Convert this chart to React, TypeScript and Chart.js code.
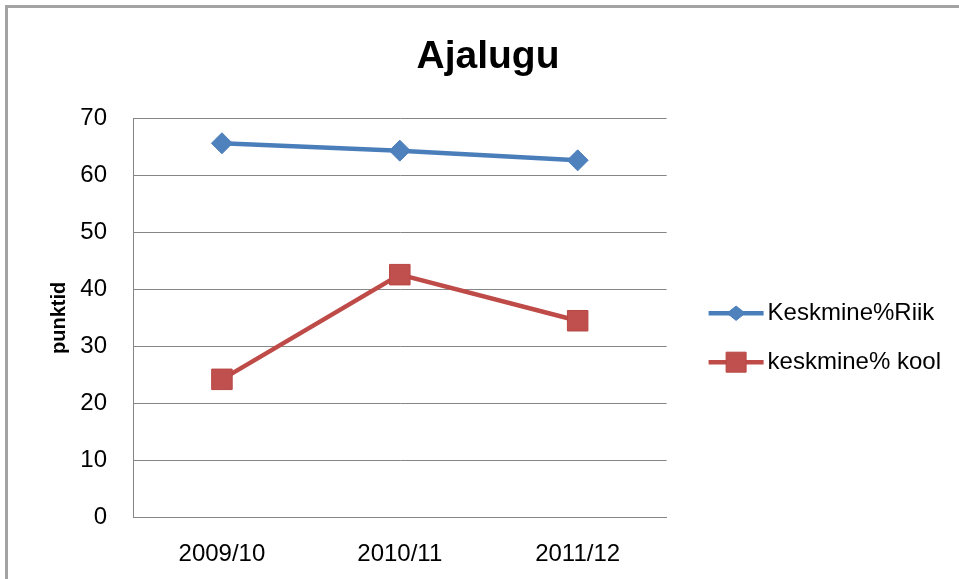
import React, { useEffect, useRef } from "react";
import { Chart, registerables } from "chart.js";

Chart.register(...registerables);

const TITLE = "Ajalugu";
const Y_TITLE = "punktid";
const CATEGORIES = ["2009/10", "2010/11", "2011/12"];
const SERIES_NAMES = ["Keskmine%Riik", "keskmine% kool"];
const RIIK_VALUES = [65.7, 64.4, 62.7];
const KOOL_VALUES = [24.2, 42.6, 34.5];
const Y_MIN = 0;
const Y_MAX = 70;
const Y_STEP = 10;

const FONT = "'Liberation Sans', Arial, sans-serif";

const legendMarkers = {
  id: "legendMarkers",
  afterDraw(chart: any) {
    const legend = chart.legend;
    if (!legend || !legend.legendHitBoxes || !legend.legendItems) return;
    const ctx = chart.ctx;
    legend.legendItems.forEach((item: any, i: number) => {
      const box = legend.legendHitBoxes[i];
      const ds = chart.data.datasets[item.datasetIndex];
      if (!box || !ds) return;
      const y = box.top + box.height / 2;
      const x0 = box.left;
      const x1 = box.left + 55;
      const cx = (x0 + x1) / 2;
      ctx.save();
      ctx.strokeStyle = ds.borderColor;
      ctx.lineWidth = ds.borderWidth;
      ctx.beginPath();
      ctx.moveTo(x0, y);
      ctx.lineTo(x1, y);
      ctx.stroke();
      ctx.fillStyle = ds.pointBackgroundColor;
      ctx.strokeStyle = ds.pointBorderColor;
      ctx.lineWidth = 1;
      ctx.beginPath();
      if (ds.pointStyle === "rectRot") {
        const r = 9;
        ctx.moveTo(cx, y - r * 0.8);
        ctx.lineTo(cx + r, y);
        ctx.lineTo(cx, y + r * 0.8);
        ctx.lineTo(cx - r, y);
        ctx.closePath();
      } else {
        const h = 10;
        ctx.rect(cx - h, y - h, 2 * h, 2 * h);
      }
      ctx.fill();
      ctx.stroke();
      ctx.restore();
    });
  },
};

export default function App() {
  const canvasRef = useRef<HTMLCanvasElement | null>(null);

  useEffect(() => {
    const canvas = canvasRef.current;
    if (!canvas) return;
    const chart = new Chart(canvas, {
      type: "line",
      data: {
        labels: CATEGORIES,
        datasets: [
          {
            label: SERIES_NAMES[0],
            data: RIIK_VALUES,
            borderColor: "#4A7EBB",
            backgroundColor: "#4F81BD",
            borderWidth: 4.5,
            pointStyle: "rectRot",
            pointRadius: 10.5,
            pointHoverRadius: 10.5,
            pointBackgroundColor: "#4F81BD",
            pointBorderColor: "#4A7EBB",
            pointBorderWidth: 1,
            tension: 0,
            yAxisID: "y",
          },
          {
            label: SERIES_NAMES[1],
            data: KOOL_VALUES,
            borderColor: "#BE4B48",
            backgroundColor: "#C0504D",
            borderWidth: 4.5,
            pointStyle: "rect",
            pointRadius: 14.5,
            pointHoverRadius: 14.5,
            pointBackgroundColor: "#C0504D",
            pointBorderColor: "#B84744",
            pointBorderWidth: 1,
            tension: 0,
            yAxisID: "y",
          },
        ] as any,
      },
      options: {
        animation: false,
        responsive: false,
        maintainAspectRatio: false,
        devicePixelRatio: 1,
        layout: { padding: { left: 25, right: 8, top: 0, bottom: 0 } },
        plugins: {
          title: {
            display: true,
            text: TITLE,
            color: "#000",
            font: { family: FONT, size: 39, weight: "bold" },
            padding: { top: 34, bottom: 38 },
          },
          legend: {
            display: true,
            position: "right",
            align: "center",
            maxWidth: 320,
            title: {
              display: true,
              text: "",
              padding: { top: 82, bottom: 0 },
            },
            labels: {
              color: "#000",
              font: { family: FONT, size: 24 },
              boxWidth: 47,
              boxHeight: 24,
              padding: 25,
              generateLabels: (chart: any) =>
                chart.data.datasets.map((ds: any, i: number) => ({
                  text: ds.label,
                  fillStyle: "rgba(0,0,0,0)",
                  strokeStyle: "rgba(0,0,0,0)",
                  lineWidth: 0,
                  hidden: false,
                  datasetIndex: i,
                  fontColor: "#000",
                })),
            },
          },
          tooltip: { enabled: false },
        },
        scales: {
          x: {
            type: "category",
            offset: true,
            grid: { display: false, drawTicks: false },
            border: { display: true, color: "#868686", width: 1 },
            ticks: {
              color: "#000",
              font: { family: FONT, size: 24 },
              padding: 23,
              maxRotation: 0,
            },
            afterFit: (s: any) => {
              s.height = 62;
            },
          },
          y: {
            type: "linear",
            position: "left",
            min: Y_MIN,
            max: Y_MAX,
            ticks: {
              stepSize: Y_STEP,
              color: "#000",
              font: { family: FONT, size: 24 },
              padding: 26,
            },
            grid: { color: "#868686", lineWidth: 1, drawTicks: false },
            border: { display: true, color: "#868686", width: 1 },
            title: {
              display: true,
              text: Y_TITLE,
              color: "#000",
              font: { family: FONT, size: 20, weight: "bold" },
              padding: { top: 22, bottom: 4 },
            },
            afterFit: (s: any) => {
              s.width = 108;
            },
          },
          y2: {
            type: "linear",
            position: "right",
            display: true,
            grid: { display: false, drawTicks: false },
            border: { display: false },
            ticks: { display: false },
            afterFit: (s: any) => {
              s.width = 17;
            },
          },
        },
      } as any,
      plugins: [legendMarkers],
    });
    return () => chart.destroy();
  }, []);

  return (
    <div
      style={{
        position: "fixed",
        left: 0,
        top: 0,
        width: 959,
        height: 579,
        overflow: "hidden",
        background: "#fff",
      }}
    >
      <div
        style={{
          position: "absolute",
          left: 5,
          top: 5,
          width: 1200,
          height: 1200,
          border: "3px solid #a3a3a3",
          boxSizing: "border-box",
        }}
      />
      <canvas
        ref={canvasRef}
        width={959}
        height={579}
        style={{ position: "absolute", left: 0, top: 0, width: 959, height: 579 }}
      />
    </div>
  );
}
